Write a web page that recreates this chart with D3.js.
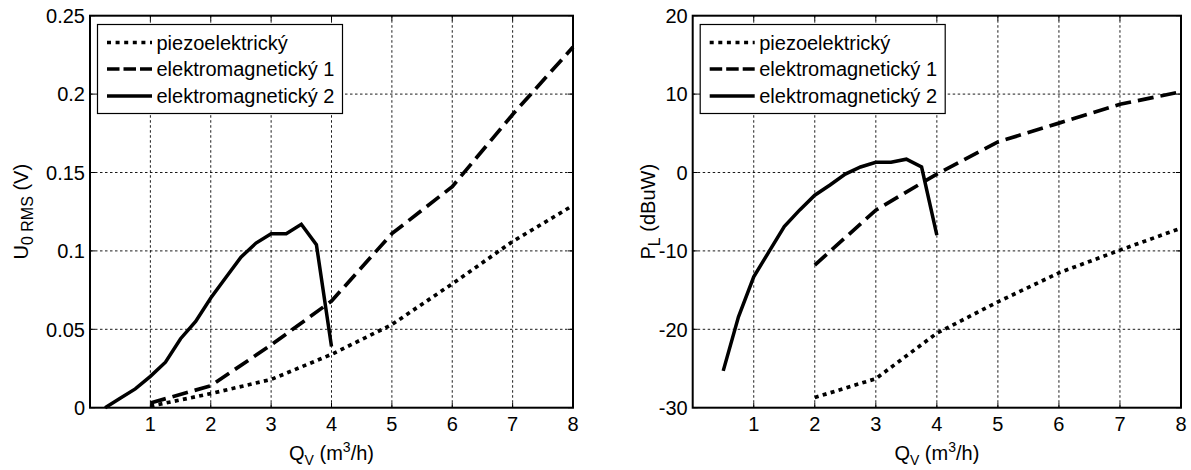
<!DOCTYPE html>
<html>
<head>
<meta charset="utf-8">
<script src="https://cdn.jsdelivr.net/npm/d3@7"></script>
<style>
  html, body { margin: 0; padding: 0; background: #fff; }
  svg { display: block; font-family: "Liberation Sans", Arial, sans-serif; }
</style>
</head>
<body>
<svg id="chart" width="1191" height="470"></svg>
<script>
// Flow rate Q_V (m^3/h) and measured harvester outputs
const seriesNames = ["piezoelektrický", "elektromagnetický 1", "elektromagnetický 2"];
const xTicks = [1, 2, 3, 4, 5, 6, 7, 8];

// Left panel: RMS open-circuit voltage U_0 RMS (V)
const qPiezoU = [1, 2, 3, 4, 5, 6, 7, 8];
const uPiezo = [0.001, 0.009, 0.018, 0.034, 0.053, 0.079, 0.106, 0.129];
const qEm1U = [1, 2, 3, 4, 5, 6, 7, 8];
const uEm1 = [0.003, 0.014, 0.040, 0.068, 0.111, 0.141, 0.187, 0.230];
const qEm2U = [0.25, 0.5, 0.75, 1, 1.25, 1.5, 1.75, 2, 2.25, 2.5, 2.75, 3, 3.25, 3.5, 3.75, 4];
const uEm2 = [0, 0.006, 0.012, 0.020, 0.029, 0.044, 0.055, 0.070, 0.083, 0.096, 0.105, 0.111, 0.111, 0.117, 0.104, 0.039];
const uTicks = [0, 0.05, 0.1, 0.15, 0.2, 0.25];
const uTickLabels = ["0", "0.05", "0.1", "0.15", "0.2", "0.25"];

// Right panel: power delivered to the load P_L (dBuW)
const qPiezoP = [2, 3, 4, 5, 6, 7, 8];
const pPiezo = [-28.7, -26.3, -20.5, -16.5, -12.8, -9.9, -7.1];
const qEm1P = [2, 3, 4, 5, 6, 7, 8];
const pEm1 = [-11.8, -4.8, -0.2, 3.9, 6.3, 8.7, 10.3];
const qEm2P = [0.5, 0.75, 1, 1.25, 1.5, 1.75, 2, 2.25, 2.5, 2.75, 3, 3.25, 3.5, 3.75, 4];
const pEm2 = [-25.3, -18.4, -13.3, -10.1, -6.9, -4.8, -2.9, -1.6, -0.2, 0.7, 1.3, 1.3, 1.7, 0.7, -8.0];
const pTicks = [-30, -20, -10, 0, 10, 20];
const pTickLabels = ["-30", "-20", "-10", "0", "10", "20"];

const svg = d3.select("#chart");
const FONT = 20;

// line styles: dotted, dashed, solid
const styles = [
  { dash: "4,4.3", width: 3.7 },
  { dash: "16,7", width: 3.7 },
  { dash: null, width: 3.5 }
];
const legendDash = ["4,4.6", "12.5,4", null];

function drawPanel(cfg) {
  const g = svg.append("g");
  const x = d3.scaleLinear().domain([0, 8]).range([cfg.left, cfg.right]);
  const y = d3.scaleLinear().domain(cfg.yDomain).range([cfg.bottom, cfg.top]);

  // grid
  const grid = g.append("g").attr("stroke", "#000").attr("stroke-width", 0.9)
    .attr("stroke-dasharray", "2.5,2.5");
  grid.selectAll("line.gx").data(xTicks.filter(t => t < 8)).join("line")
    .attr("x1", d => x(d)).attr("x2", d => x(d))
    .attr("y1", cfg.bottom).attr("y2", cfg.top);
  grid.selectAll("line.gy").data(cfg.yTicks.slice(1, -1)).join("line")
    .attr("y1", d => y(d)).attr("y2", d => y(d))
    .attr("x1", cfg.left).attr("x2", cfg.right);

  // inward ticks on all four sides
  const tk = g.append("g").attr("stroke", "#000").attr("stroke-width", 1);
  xTicks.forEach(t => {
    tk.append("line").attr("x1", x(t)).attr("x2", x(t)).attr("y1", cfg.bottom).attr("y2", cfg.bottom - 5);
    tk.append("line").attr("x1", x(t)).attr("x2", x(t)).attr("y1", cfg.top).attr("y2", cfg.top + 5);
  });
  cfg.yTicks.forEach(t => {
    tk.append("line").attr("y1", y(t)).attr("y2", y(t)).attr("x1", cfg.left).attr("x2", cfg.left + 5);
    tk.append("line").attr("y1", y(t)).attr("y2", y(t)).attr("x1", cfg.right).attr("x2", cfg.right - 5);
  });

  // data lines
  const line = d3.line().x(d => x(d[0])).y(d => y(d[1]));
  cfg.series.forEach((s, i) => {
    const pts = s.q.map((q, k) => [q, s.v[k]]);
    g.append("path").datum(pts)
      .attr("d", line)
      .attr("fill", "none")
      .attr("stroke", "#000")
      .attr("stroke-width", styles[i].width)
      .attr("stroke-linejoin", "miter")
      .attr("stroke-dasharray", styles[i].dash);
  });

  // axes box
  g.append("rect")
    .attr("x", cfg.left).attr("y", cfg.top)
    .attr("width", cfg.right - cfg.left).attr("height", cfg.bottom - cfg.top)
    .attr("fill", "none").attr("stroke", "#000").attr("stroke-width", 2);

  // tick labels
  const xl = g.append("g").attr("font-size", FONT).attr("fill", "#000").attr("text-anchor", "middle");
  xl.selectAll("text").data(xTicks).join("text")
    .attr("x", d => x(d)).attr("y", cfg.bottom + 23)
    .text(d => d);
  const yl = g.append("g").attr("font-size", FONT).attr("fill", "#000").attr("text-anchor", "end");
  yl.selectAll("text").data(cfg.yTicks).join("text")
    .attr("x", cfg.left - 5).attr("y", d => y(d)).attr("dy", "0.36em")
    .text((d, i) => cfg.yTickLabels[i]);

  // x axis label
  const xt = g.append("text").attr("x", (cfg.left + cfg.right) / 2).attr("y", 460)
    .attr("text-anchor", "middle").attr("font-size", 20);
  xt.append("tspan").text("Q");
  xt.append("tspan").attr("dy", 5).attr("font-size", 14).text("V");
  xt.append("tspan").attr("dy", -5).text(" (m");
  xt.append("tspan").attr("dy", -8).attr("font-size", 14).text("3");
  xt.append("tspan").attr("dy", 8).text("/h)");

  // y axis label
  const yt = g.append("text")
    .attr("transform", `translate(${cfg.yLabelX},${(cfg.top + cfg.bottom) / 2}) rotate(-90)`)
    .attr("text-anchor", "middle").attr("font-size", 20);
  yt.append("tspan").text(cfg.yLabel[0]);
  yt.append("tspan").attr("dy", 5).attr("font-size", 16).text(cfg.yLabel[1]);
  yt.append("tspan").attr("dy", -5).text(cfg.yLabel[2]);

  // legend
  const lg = g.append("g");
  lg.append("rect")
    .attr("x", cfg.left + 7.5).attr("y", 24.5).attr("width", 245).attr("height", 89)
    .attr("fill", "#fff").attr("stroke", "#000").attr("stroke-width", 1.2);
  const rowY = [42.5, 69, 96];
  seriesNames.forEach((name, i) => {
    lg.append("line")
      .attr("x1", cfg.left + 17).attr("x2", cfg.left + 62)
      .attr("y1", rowY[i]).attr("y2", rowY[i])
      .attr("stroke", "#000").attr("stroke-width", styles[i].width)
      .attr("stroke-dasharray", legendDash[i]);
    lg.append("text")
      .attr("x", cfg.left + 66.5).attr("y", rowY[i]).attr("dy", "0.36em")
      .attr("font-size", FONT).text(name);
  });
}

drawPanel({
  left: 90, right: 573, top: 15.7, bottom: 407.7,
  yDomain: [0, 0.25], yTicks: uTicks, yTickLabels: uTickLabels,
  yLabel: ["U", "0 RMS", " (V)"], yLabelX: 28,
  series: [
    { q: qPiezoU, v: uPiezo },
    { q: qEm1U, v: uEm1 },
    { q: qEm2U, v: uEm2 }
  ]
});

drawPanel({
  left: 692.7, right: 1181, top: 15.7, bottom: 407.7,
  yDomain: [-30, 20], yTicks: pTicks, yTickLabels: pTickLabels,
  yLabel: ["P", "L", " (dBuW)"], yLabelX: 655,
  series: [
    { q: qPiezoP, v: pPiezo },
    { q: qEm1P, v: pEm1 },
    { q: qEm2P, v: pEm2 }
  ]
});
</script>
</body>
</html>
